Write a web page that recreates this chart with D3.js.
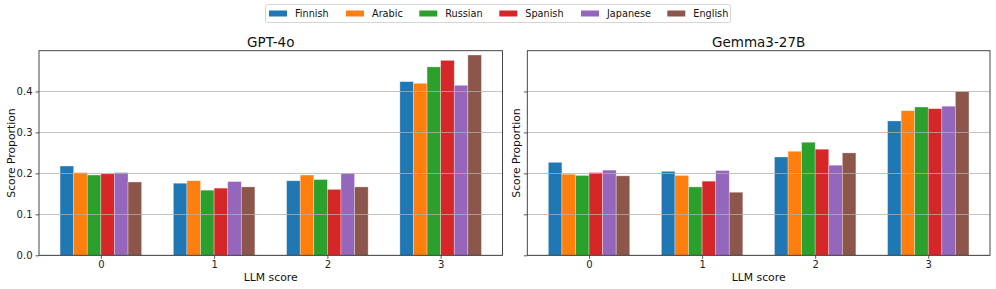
<!DOCTYPE html>
<html>
<head>
<meta charset="utf-8">
<script src="https://cdn.jsdelivr.net/npm/d3@7"></script>
<style>
  html, body { margin: 0; padding: 0; background: #fff; }
  svg { display: block; font-family: "DejaVu Sans", sans-serif; }
</style>
</head>
<body>
<svg id="chart" width="996" height="289"></svg>
<script>
const scoreCategories = [0, 1, 2, 3];
const languages = ["Finnish", "Arabic", "Russian", "Spanish", "Japanese", "English"];
const colors = ["#1f77b4", "#ff7f0e", "#2ca02c", "#d62728", "#9467bd", "#8c564b"];
const panelTitles = ["GPT-4o", "Gemma3-27B"];
const yTicks = [0.0, 0.1, 0.2, 0.3, 0.4];

// values per language, indexed by LLM score 0..3
const gpt4o = {
  Finnish:  [0.218, 0.176, 0.182, 0.424],
  Arabic:   [0.202, 0.182, 0.196, 0.420],
  Russian:  [0.196, 0.159, 0.185, 0.460],
  Spanish:  [0.199, 0.164, 0.161, 0.476],
  Japanese: [0.202, 0.180, 0.200, 0.415],
  English:  [0.179, 0.167, 0.167, 0.489]
};
const gemma = {
  Finnish:  [0.227, 0.205, 0.240, 0.328],
  Arabic:   [0.198, 0.195, 0.254, 0.353],
  Russian:  [0.195, 0.167, 0.276, 0.362],
  Spanish:  [0.202, 0.181, 0.259, 0.358],
  Japanese: [0.208, 0.207, 0.220, 0.364],
  English:  [0.194, 0.154, 0.250, 0.400]
};
const panelData = [gpt4o, gemma];

(function () {
const svg = d3.select("#chart");
const barW = 0.12;
const panels = [
  { left: 39, right: 502.5, showYLabels: true, ylabelX: 11 },
  { left: 527.3, right: 990, showYLabels: false, ylabelX: 516 }
];
const plotTop = 50.7, plotBottom = 255.3;
const y = d3.scaleLinear().domain([0, 0.4995]).range([plotBottom, plotTop]);

panels.forEach((p, pi) => {
  const x = d3.scaleLinear().domain([-0.546, 3.546]).range([p.left, p.right]);
  const g = svg.append("g");
  const data = panelData[pi];

  // bars
  languages.forEach((lang, li) => {
    const off = (li - 2.5) * barW;
    g.selectAll(null).data(data[lang]).enter().append("rect")
      .attr("x", (d, i) => x(scoreCategories[i] + off - barW / 2))
      .attr("width", (d, i) => x(scoreCategories[i] + off + barW / 2) - x(scoreCategories[i] + off - barW / 2))
      .attr("y", d => y(d))
      .attr("height", d => y(0) - y(d))
      .attr("fill", colors[li])
      .attr("stroke", "#ffffff")
      .attr("stroke-opacity", 0.45)
      .attr("stroke-width", 0.7);
  });

  // grid (on top of bars)
  g.selectAll(null).data(yTicks).enter().append("line")
    .attr("x1", p.left).attr("x2", p.right)
    .attr("y1", d => Math.round(y(d)) + 0.5).attr("y2", d => Math.round(y(d)) + 0.5)
    .attr("stroke", "#b0b0b0").attr("stroke-width", 0.9).attr("stroke-opacity", 0.85);

  // y axis
  const yAxis = d3.axisLeft(y).tickValues(yTicks).tickSize(3.5).tickPadding(3)
    .tickFormat(p.showYLabels ? d3.format(".1f") : () => "");
  const ya = g.append("g").attr("transform", `translate(${p.left},0)`).call(yAxis);
  ya.select(".domain").remove();
  ya.selectAll("line").attr("stroke", "#333").attr("stroke-width", 0.8);
  ya.selectAll("text").attr("font-size", 10).attr("fill", "#222")
    .attr("font-family", "DejaVu Sans, sans-serif");

  // x axis
  const xAxis = d3.axisBottom(x).tickValues(scoreCategories).tickSize(3.5).tickPadding(2.5)
    .tickFormat(d3.format("d"));
  const xa = g.append("g").attr("transform", `translate(0,${plotBottom})`).call(xAxis);
  xa.select(".domain").remove();
  xa.selectAll("line").attr("stroke", "#333").attr("stroke-width", 0.8);
  xa.selectAll("text").attr("font-size", 10).attr("fill", "#222")
    .attr("font-family", "DejaVu Sans, sans-serif");

  // frame
  g.append("rect").attr("x", p.left).attr("y", plotTop)
    .attr("width", p.right - p.left).attr("height", plotBottom - plotTop)
    .attr("fill", "none").attr("stroke", "#333").attr("stroke-width", 0.9);

  // title
  g.append("text").attr("x", (p.left + p.right) / 2).attr("y", 46.5)
    .attr("text-anchor", "middle").attr("font-size", 13.5).attr("fill", "#111")
    .text(panelTitles[pi]);

  // x label
  g.append("text").attr("x", (p.left + p.right) / 2).attr("y", 281)
    .attr("text-anchor", "middle").attr("font-size", 10.8).attr("fill", "#111")
    .text("LLM score");

  // y label
  g.append("text")
    .attr("transform", `translate(${p.ylabelX + 4},${(plotTop + plotBottom) / 2}) rotate(-90)`)
    .attr("text-anchor", "middle").attr("font-size", 10.8).attr("fill", "#111")
    .text("Score Proportion");
});

// legend
const leg = svg.append("g");
leg.append("rect").attr("x", 265.5).attr("y", 4.5).attr("width", 465).attr("height", 18)
  .attr("rx", 2).attr("fill", "#fff").attr("stroke", "#d0d0d0").attr("stroke-width", 0.9);
const legPatchX = [269, 346, 419.3, 499.3, 581, 667.3];
languages.forEach((lang, li) => {
  leg.append("rect").attr("x", legPatchX[li]).attr("y", 10.5).attr("width", 18).attr("height", 6)
    .attr("fill", colors[li]);
  leg.append("text").attr("x", legPatchX[li] + 26).attr("y", 17)
    .attr("font-size", 9.7).attr("fill", "#111").text(lang);
});
})();
</script>
</body>
</html>
